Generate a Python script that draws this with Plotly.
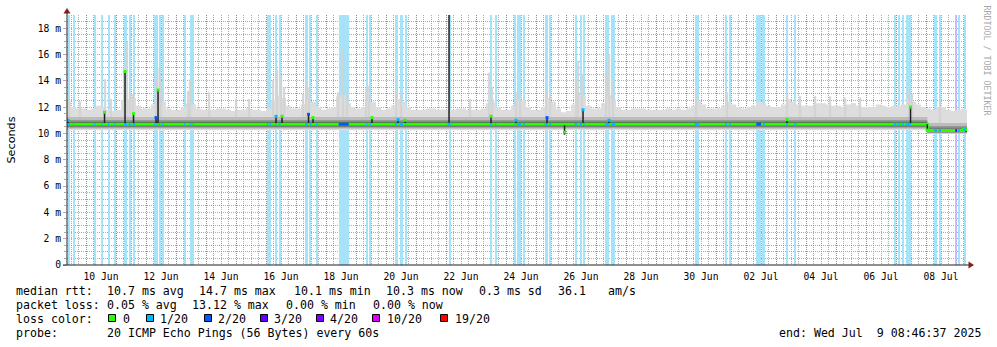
import pandas as pd
import plotly.graph_objects as go

# ---------------------------------------------------------------- window
T_START = pd.Timestamp("2025-06-09 08:46:37")
T_END = pd.Timestamp("2025-07-09 08:46:37")
Y_MAX = 19.0  # ms at the top of the canvas

# ---------------------------------------------------------------- smoke (ms)
# upper edge of the ping spread, 4-hour bins starting Jun 9 08:00
SMOKE_BIN0 = pd.Timestamp("2025-06-09 08:00")
smoke_top = [
    12.4, 12.0, 11.9, 11.9,                      # Jun 9
    11.8, 11.9, 12.1, 12.0, 11.8, 11.7,          # Jun 10
    11.8, 12.5, 12.6, 12.7, 12.1, 11.9,          # Jun 11
    11.9, 12.2, 12.9, 12.4, 11.9, 11.8,          # Jun 12
    11.8, 12.0, 12.3, 12.2, 11.9, 11.8,          # Jun 13
    11.8, 11.8, 11.9, 11.9, 11.8, 11.7,          # Jun 14
    11.8, 11.8, 11.9, 11.8, 11.8, 11.7,          # Jun 15
    11.9, 12.5, 12.9, 12.7, 12.1, 11.9,          # Jun 16
    11.9, 12.2, 12.6, 12.4, 12.0, 11.8,          # Jun 17
    11.9, 12.0, 12.8, 12.9, 12.3, 12.0,          # Jun 18
    11.9, 12.0, 12.5, 12.4, 12.0, 11.8,          # Jun 19
    11.9, 12.1, 12.6, 12.4, 12.0, 11.8,          # Jun 20
    11.8, 11.8, 11.9, 11.9, 11.8, 11.8,          # Jun 21
    11.8, 11.8, 11.9, 11.9, 11.8, 11.8,          # Jun 22
    11.8, 11.9, 12.3, 12.4, 12.0, 11.8,          # Jun 23
    11.8, 12.1, 12.6, 12.5, 12.0, 11.8,          # Jun 24
    11.8, 12.0, 12.7, 12.4, 11.9, 11.6,          # Jun 25
    11.7, 12.2, 13.0, 12.8, 12.1, 11.9,          # Jun 26
    11.9, 12.3, 12.9, 12.6, 12.0, 11.8,          # Jun 27
    11.8, 11.9, 11.9, 11.9, 11.8, 11.8,          # Jun 28
    11.8, 11.8, 11.9, 11.8, 11.9, 11.8,          # Jun 29
    11.9, 12.1, 12.5, 12.2, 11.9, 11.9,          # Jun 30
    11.9, 12.1, 12.4, 12.2, 12.0, 11.9,          # Jul 1
    12.0, 12.1, 12.4, 12.3, 12.1, 12.0,          # Jul 2
    12.0, 12.2, 12.6, 12.4, 12.2, 12.1,          # Jul 3
    12.1, 12.1, 12.3, 12.3, 12.2, 12.1,          # Jul 4
    12.1, 12.0, 12.2, 12.3, 12.1, 12.0,          # Jul 5
    12.0, 12.0, 12.2, 12.1, 12.0, 12.1,          # Jul 6
    12.1, 12.2, 12.6, 12.4, 12.2, 12.0,          # Jul 7
    11.9, 11.8, 12.0, 12.0, 11.8, 11.7,          # Jul 8
    11.8, 11.9, 11.8,                            # Jul 9
]

# inner bands of the spread; the path shifted down early on Jul 8
layer_times = ["2025-06-09 08:46:37", "2025-07-08 01:00"]
smoke_outer_low = [10.25, 9.95]
smoke_mid_low = [10.35, 10.00]
smoke_mid_high = [11.25, 10.80]
smoke_core_low = [10.45, 10.05]
smoke_core_high = [11.00, 10.55]
smoke_dark_low = [10.55, 10.10]
smoke_dark_high = [10.85, 10.35]

# median rtt, piecewise
median_times = ["2025-06-09 08:46:37", "2025-07-08 01:00", "2025-07-09 06:00"]
median_rtt = [10.70, 10.22, 10.30]

# single tall ping outliers (top of the spread, ms)
outlier_times = [
    "2025-06-09 10:24", "2025-06-09 19:12", "2025-06-10 15:12", "2025-06-10 20:00",
    "2025-06-11 06:24", "2025-06-11 08:48", "2025-06-11 11:12", "2025-06-11 13:36",
    "2025-06-12 08:00", "2025-06-12 10:48", "2025-06-12 12:00",
    "2025-06-13 09:36", "2025-06-13 11:12", "2025-06-14 02:24",
    "2025-06-15 00:00", "2025-06-15 10:24",
    "2025-06-16 05:36", "2025-06-16 08:48", "2025-06-16 12:00", "2025-06-16 14:24",
    "2025-06-17 05:36", "2025-06-17 08:00", "2025-06-17 10:24",
    "2025-06-18 09:36", "2025-06-18 13:36", "2025-06-18 16:48",
    "2025-06-19 08:00", "2025-06-19 10:24", "2025-06-20 08:00", "2025-06-20 12:00",
    "2025-06-22 19:12", "2025-06-23 10:24", "2025-06-23 12:48",
    "2025-06-24 08:00", "2025-06-24 11:12", "2025-06-25 08:00", "2025-06-25 11:12",
    "2025-06-26 08:00", "2025-06-26 09:36", "2025-06-26 12:48",
    "2025-06-27 08:00", "2025-06-27 10:24", "2025-06-27 13:36",
    "2025-06-30 08:00", "2025-07-01 08:48", "2025-07-03 08:48", "2025-07-03 19:12",
    "2025-07-04 07:12", "2025-07-04 19:12", "2025-07-05 07:12", "2025-07-05 19:12",
    "2025-07-07 10:24", "2025-07-07 12:48", "2025-07-08 11:12",
]
outlier_top = [
    12.6, 12.4, 14.1, 12.6,
    15.0, 16.9, 13.1, 13.0,
    14.2, 15.0, 13.8,
    13.2, 14.1, 13.1,
    12.6, 12.6,
    14.0, 14.8, 14.4, 13.5,
    13.0, 13.7, 13.5,
    13.1, 16.3, 13.2,
    13.4, 13.6, 13.2, 13.0,
    12.6, 14.6, 13.5,
    13.1, 13.0, 13.2, 12.8,
    14.0, 15.5, 14.5,
    14.5, 16.0, 13.9,
    13.1, 13.1, 13.0, 12.8,
    12.8, 12.8, 12.7, 12.7,
    13.3, 13.0, 12.4,
]

# short median excursions: dark core from low to high, median value and its loss level
excursion_times = [
    "2025-06-09 09:36", "2025-06-10 14:48", "2025-06-11 07:12", "2025-06-11 14:00",
    "2025-06-12 08:00", "2025-06-12 09:36", "2025-06-16 08:00", "2025-06-16 12:48",
    "2025-06-17 10:00", "2025-06-17 13:36", "2025-06-19 12:48", "2025-06-20 09:36",
    "2025-06-20 15:12", "2025-06-22 02:24", "2025-06-23 12:00", "2025-06-24 08:00",
    "2025-06-25 08:48", "2025-06-25 22:48", "2025-06-26 13:36", "2025-06-27 10:24",
    "2025-07-03 08:48", "2025-07-07 11:36", "2025-07-08 01:00",
]
excursion_low = [
    10.8, 10.8, 10.8, 10.8, 10.8, 10.8, 10.8, 10.8, 10.8, 10.8, 10.8, 10.8,
    10.8, 10.8, 10.8, 10.8, 10.8, 9.9, 10.8, 10.8, 10.8, 10.8, 10.2,
]
excursion_high = [
    11.0, 11.6, 14.7, 11.5, 11.2, 13.3, 11.3, 11.3, 11.45, 11.2, 11.2, 11.05,
    11.0, 19.5, 11.3, 11.0, 11.2, 10.6, 11.8, 11.0, 11.05, 12.0, 10.7,
]
excursion_median = [
    11.0, 11.6, 14.7, 11.5, 11.2, 13.3, 11.3, 11.3, 11.45, 11.2, 11.2, 11.05,
    11.0, 10.7, 11.3, 11.0, 11.2, 10.1, 11.8, 11.0, 11.05, 12.0, 10.25,
]
excursion_loss = [
    1, 0, 0, 0, 2, 0, 1, 0, 2, 0, 0, 1,
    0, 1, 0, 1, 2, 0, 1, 1, 0, 0, 0,
]

# periods with packet loss
loss_start = [
    "2025-06-09 09:36", "2025-06-09 13:36", "2025-06-10 06:24", "2025-06-10 12:24", "2025-06-10 17:36", "2025-06-10 22:24",
    "2025-06-11 06:24", "2025-06-11 10:10", "2025-06-11 13:22",
    "2025-06-12 06:24", "2025-06-12 08:14", "2025-06-12 10:24", "2025-06-12 12:48",
    "2025-06-13 06:24", "2025-06-13 11:12", "2025-06-13 13:22",
    "2025-06-16 00:48", "2025-06-16 02:58", "2025-06-16 07:12", "2025-06-16 10:24",
    "2025-06-17 07:26", "2025-06-17 10:58", "2025-06-17 16:00",
    "2025-06-18 10:10",
    "2025-06-19 08:00", "2025-06-19 11:00",
    "2025-06-20 07:26", "2025-06-20 11:00", "2025-06-20 15:26",
    "2025-06-22 02:24",
    "2025-06-23 11:12", "2025-06-23 15:12",
    "2025-06-24 07:00", "2025-06-24 08:48", "2025-06-24 13:36",
    "2025-06-25 07:00", "2025-06-25 10:38",
    "2025-06-26 07:00", "2025-06-26 11:00", "2025-06-26 13:50",
    "2025-06-27 07:26", "2025-06-27 12:14",
    "2025-06-30 07:00",
    "2025-07-01 07:26", "2025-07-01 10:38",
    "2025-07-02 08:14", "2025-07-02 13:26",
    "2025-07-03 08:00", "2025-07-03 14:38",
    "2025-07-06 22:12", "2025-07-07 01:22", "2025-07-07 04:34", "2025-07-07 07:46",
    "2025-07-08 06:38", "2025-07-08 10:10",
    "2025-07-08 23:26", "2025-07-09 01:36", "2025-07-09 06:10",
]
loss_end = [
    "2025-06-09 11:12", "2025-06-09 14:24", "2025-06-10 07:36", "2025-06-10 13:12", "2025-06-10 18:24", "2025-06-10 23:12",
    "2025-06-11 08:48", "2025-06-11 11:46", "2025-06-11 15:26",
    "2025-06-12 07:22", "2025-06-12 09:22", "2025-06-12 11:22", "2025-06-12 13:46",
    "2025-06-13 07:22", "2025-06-13 12:10", "2025-06-13 14:24",
    "2025-06-16 01:50", "2025-06-16 04:00", "2025-06-16 08:24", "2025-06-16 11:36",
    "2025-06-17 09:22", "2025-06-17 12:14", "2025-06-17 17:36",
    "2025-06-18 18:10",
    "2025-06-19 09:00", "2025-06-19 12:14",
    "2025-06-20 09:22", "2025-06-20 13:36", "2025-06-20 16:14",
    "2025-06-22 03:26",
    "2025-06-23 12:48", "2025-06-23 16:14",
    "2025-06-24 08:00", "2025-06-24 12:00", "2025-06-24 15:00",
    "2025-06-25 09:36", "2025-06-25 12:14",
    "2025-06-26 09:00", "2025-06-26 12:48", "2025-06-26 15:00",
    "2025-06-27 10:38", "2025-06-27 15:26",
    "2025-06-30 10:38",
    "2025-07-01 08:48", "2025-07-01 12:00",
    "2025-07-02 12:00", "2025-07-02 15:00",
    "2025-07-03 09:36", "2025-07-03 16:14",
    "2025-07-07 00:14", "2025-07-07 03:00", "2025-07-07 06:10", "2025-07-07 12:00",
    "2025-07-08 08:48", "2025-07-08 12:00",
    "2025-07-09 00:48", "2025-07-09 03:00", "2025-07-09 07:48",
]
loss_level = [
    1, 1, 1, 1, 1, 1,
    1, 1, 1,
    1, 1, 1, 1,
    1, 1, 1,
    1, 1, 1, 1,
    1, 1, 1,
    2,
    1, 1,
    1, 1, 1,
    1,
    1, 1,
    1, 1, 1,
    1, 1,
    1, 1, 1,
    1, 1,
    1,
    1, 1,
    2, 1,
    1, 1,
    1, 1, 1, 1,
    1, 1,
    3, 1, 1,
]

loss_labels = ["0", "1/20", "2/20", "3/20", "4/20", "10/20", "19/20"]
loss_colors = ["#26ff00", "#00b8ff", "#0059ff", "#5e00ff", "#7e00ff", "#dd00ff", "#ff0000"]
# background tint per loss level (light losses share the pale sky tint)
loss_bg_colors = ["#ffffff", "#a6e3f9", "#a6e3f9", "#c9b8ff", "#c9b8ff", "#f0b0ff", "#ffb0b0"]

x_label_days = pd.date_range("2025-06-10", "2025-07-08", freq="2D")
x_label_text = [d.strftime("%d %b") for d in x_label_days]
y_tick_vals = [0, 2, 4, 6, 8, 10, 12, 14, 16, 18]
y_tick_text = ["0"] + [f"{v} m" for v in y_tick_vals[1:]]

stats_rtt = [("10.7", "ms avg"), ("14.7", "ms max"), ("10.1", "ms min"), ("10.3", "ms now"), ("0.3", "ms sd")]
stats_loss = [("0.05", "% avg"), ("13.12", "% max"), ("0.00", "% min"), ("0.00", "% now")]

# ---------------------------------------------------------------- styling
W, H = 997, 347
PL, PR, PT, PB = 67, 967, 15, 265
MONO = "DejaVu Sans Mono"
GRID = "rgba(143,143,143,0.75)"
MGRID = "rgba(222,79,79,0.6)"
ARROW = "#801f1f"
AXIS = "#1f1f1f"
SMOKE = ["#dddddd", "#bcbcbc", "#8c8c8c", "#4d4d4d"]
SPIKE_COLOR = "#d2d2d2"
SPIKE_W = pd.Timedelta(minutes=72)
EXC_W = pd.Timedelta(minutes=72)


def px_x(px):
    return (px - PL) / (PR - PL)


def px_y(py):
    return (PB - py) / (PB - PT)


def steps(times, values):
    xs = [pd.Timestamp(t) for t in times] + [T_END]
    ys = list(values) + [values[-1]]
    return xs, ys


def value_at(times, values, t):
    t = pd.Timestamp(t)
    v = values[0]
    for tt, vv in zip(times, values):
        if pd.Timestamp(tt) <= t:
            v = vv
    return v


fig = go.Figure()

# loss background
ls = pd.to_datetime(loss_start)
le = pd.to_datetime(loss_end)
fig.add_trace(go.Bar(
    x=ls + (le - ls) / 2,
    y=[Y_MAX] * len(ls),
    base=0,
    width=[(e - s).total_seconds() * 1000 for s, e in zip(ls, le)],
    marker=dict(color=[loss_bg_colors[l] for l in loss_level], line=dict(width=0)),
    hoverinfo="skip",
))

# outer smoke
bin_x = [SMOKE_BIN0 + pd.Timedelta(hours=4 * i) for i in range(len(smoke_top))]
lx, ly = steps(layer_times, smoke_outer_low)
fig.add_trace(go.Scatter(x=lx, y=ly, mode="lines", line=dict(width=0, shape="hv"), hoverinfo="skip"))
fig.add_trace(go.Scatter(x=bin_x + [bin_x[-1] + pd.Timedelta(hours=4)], y=smoke_top + [smoke_top[-1]],
                         mode="lines", line=dict(width=0, shape="hv"), fill="tonexty",
                         fillcolor=SMOKE[0], hoverinfo="skip"))

# outlier spikes
sx, sy = [], []
for t, top in zip(outlier_times, outlier_top):
    c = pd.Timestamp(t)
    a, b = c - SPIKE_W / 2, c + SPIKE_W / 2
    base = value_at(layer_times, smoke_mid_high, t)
    sx += [a, a, b, b, a, None]
    sy += [base, top, top, base, base, None]
fig.add_trace(go.Scatter(x=sx, y=sy, mode="lines", line=dict(width=0.6, color=SPIKE_COLOR), fill="toself",
                         fillcolor=SPIKE_COLOR, hoverinfo="skip"))

# inner smoke bands
for low, high, col in [(smoke_mid_low, smoke_mid_high, SMOKE[1]),
                       (smoke_core_low, smoke_core_high, SMOKE[2]),
                       (smoke_dark_low, smoke_dark_high, SMOKE[3])]:
    x0, y0 = steps(layer_times, low)
    x1, y1 = steps(layer_times, high)
    fig.add_trace(go.Scatter(x=x0, y=y0, mode="lines", line=dict(width=0, shape="hv"), hoverinfo="skip"))
    fig.add_trace(go.Scatter(x=x1, y=y1, mode="lines", line=dict(width=0, shape="hv"), fill="tonexty",
                             fillcolor=col, hoverinfo="skip"))

# median line
mx, my = steps(median_times, median_rtt)
fig.add_trace(go.Scatter(x=mx, y=my, mode="lines", line=dict(color=loss_colors[0], width=3, shape="hv"),
                         hoverinfo="skip"))

# median coloured by loss during loss periods
for lvl in sorted(set(loss_level)):
    xs, ys = [], []
    for s, e, l in zip(loss_start, loss_end, loss_level):
        if l == lvl:
            m = value_at(median_times, median_rtt, s)
            xs += [pd.Timestamp(s), pd.Timestamp(e), None]
            ys += [m, m, None]
    fig.add_trace(go.Scatter(x=xs, y=ys, mode="lines", line=dict(color=loss_colors[lvl], width=3),
                             hoverinfo="skip"))

# excursion cores
ex, ey = [], []
for t, lo, hi in zip(excursion_times, excursion_low, excursion_high):
    c = pd.Timestamp(t)
    a, b = c - EXC_W / 2, c + EXC_W / 2
    ex += [a, a, b, b, a, None]
    ey += [lo, hi, hi, lo, lo, None]
fig.add_trace(go.Scatter(x=ex, y=ey, mode="lines", line=dict(width=0), fill="toself",
                         fillcolor="#202020", hoverinfo="skip"))
fig.add_trace(go.Scatter(
    x=pd.to_datetime(excursion_times), y=excursion_median, mode="markers",
    marker=dict(symbol="square", size=3, color=[loss_colors[l] for l in excursion_loss], line=dict(width=0)),
    hoverinfo="skip"))

# carrier for the date label axis
fig.add_trace(go.Scatter(x=[T_START, T_END], y=[None, None], xaxis="x2", mode="lines", hoverinfo="skip"))

grid_days = pd.date_range("2025-06-10", "2025-07-09", freq="D")
grid_6h = pd.date_range("2025-06-09 12:00", "2025-07-09 06:00", freq="6h")

fig.update_layout(
    width=W, height=H,
    margin=dict(l=PL, r=W - PR, t=PT, b=H - PB, pad=0),
    paper_bgcolor="white", plot_bgcolor="white",
    showlegend=False, barmode="overlay", bargap=0,
    font=dict(family=MONO, size=10, color="black"),
    xaxis=dict(type="date", range=[T_START, T_END], tickmode="array", tickvals=list(grid_days),
               showticklabels=False, ticks="", showgrid=True, gridcolor=MGRID, griddash="1px,1px", gridwidth=1,
               minor=dict(tickmode="array", tickvals=list(grid_6h), showgrid=True, gridcolor=GRID,
                          griddash="1px,1px", gridwidth=1, ticks=""),
               showline=False, zeroline=False, fixedrange=True),
    xaxis2=dict(type="date", overlaying="x", anchor="y", side="bottom", range=[T_START, T_END],
                tickmode="array", tickvals=[d + pd.Timedelta(hours=12) for d in x_label_days],
                ticktext=x_label_text, showgrid=False, ticks="", ticklen=0, ticklabelstandoff=4,
                tickfont=dict(family=MONO, size=9.7, color="black"), showline=False, zeroline=False),
    yaxis=dict(range=[0, Y_MAX], tickmode="array", tickvals=y_tick_vals, ticktext=y_tick_text,
               showgrid=True, gridcolor=MGRID, griddash="1px,1px", gridwidth=1,
               ticks="outside", ticklen=3, tickcolor=MGRID, tickwidth=1,
               minor=dict(tickmode="array", tickvals=[v / 2 for v in range(1, 38) if v % 4],
                          showgrid=True, gridcolor=GRID, griddash="1px,1px", gridwidth=1,
                          ticks="outside", ticklen=2, tickcolor=GRID),
               tickfont=dict(family=MONO, size=9.7, color="black"),
               showline=False, zeroline=False, fixedrange=True),
)

shapes = [
    dict(type="line", xref="paper", yref="paper", x0=px_x(67), x1=px_x(67), y0=px_y(265), y1=px_y(11),
         line=dict(color=AXIS, width=1)),
    dict(type="line", xref="paper", yref="paper", x0=px_x(63), x1=px_x(969), y0=px_y(265), y1=px_y(265),
         line=dict(color=AXIS, width=1)),
    dict(type="path", xref="paper", yref="paper", fillcolor=ARROW, line=dict(width=0),
         path=f"M {px_x(67)} {px_y(8)} L {px_x(63.5)} {px_y(13.5)} L {px_x(70.5)} {px_y(13.5)} Z"),
    dict(type="path", xref="paper", yref="paper", fillcolor=ARROW, line=dict(width=0),
         path=f"M {px_x(974)} {px_y(265)} L {px_x(968.5)} {px_y(261.5)} L {px_x(968.5)} {px_y(268.5)} Z"),
]

LEG = 11.6
ann = []


def text(px, py, s, anchor="left", size=LEG, color="black", angle=0, family=MONO):
    ann.append(dict(xref="paper", yref="paper", x=px_x(px), y=px_y(py), text=s.replace(" ", "\u00a0"),
                    xanchor=anchor, yanchor="middle", showarrow=False, borderpad=0, borderwidth=0,
                    textangle=angle, font=dict(family=family, size=size, color=color)))


text(10.5, 140, "Seconds", anchor="center", size=11.2, angle=-90, family="DejaVu Sans")
text(986.5, 60, "RRDTOOL / TOBI OETIKER", anchor="center", size=8.3, color="#a8a8a8", angle=90)

text(16, 291, "median rtt:")
for px, (v, u) in zip([107.3, 199.3, 294, 386, 479.3], stats_rtt):
    text(px, 291, f"{v} {u}")
text(558.3, 291, "36.1")
text(607.7, 291, "am/s")

text(16, 305, "packet loss:")
for px, (v, u) in zip([107.3, 192.3, 286, 372.7], stats_loss):
    text(px, 305, f"{v} {u}")

text(16, 319, "loss color:")
for bx, tx, lab, col in zip([108, 146, 204, 260, 316, 372, 440], [123, 160, 218, 274, 330, 387, 455],
                            loss_labels, loss_colors):
    shapes.append(dict(type="rect", xref="paper", yref="paper", x0=px_x(bx + 0.5), x1=px_x(bx + 7.5),
                       y0=px_y(321.5), y1=px_y(314.5), fillcolor=col, line=dict(color="black", width=1)))
    text(tx, 319, lab)

text(16, 333, "probe:")
text(107.3, 333, "20 ICMP Echo Pings (56 Bytes) every 60s")
text(981, 333, "end: Wed Jul  9 08:46:37 2025", anchor="right")

fig.update_layout(shapes=shapes, annotations=ann)
fig.write_html("out.html")
